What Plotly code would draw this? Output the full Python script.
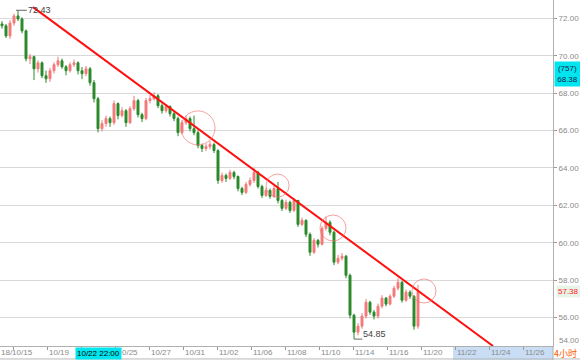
import plotly.graph_objects as go

# ---- data (4-hour candles) ----
closes = [71.60, 71.06, 71.75, 72.13, 71.97, 71.33, 69.84, 69.95, 69.30, 69.62,
          68.93, 68.77, 69.20, 69.52, 69.73, 69.41, 69.20, 69.52, 69.62, 69.20,
          69.04, 69.30, 68.56, 67.70, 66.10, 66.37, 66.64, 66.42, 67.44, 66.80,
          67.06, 66.42, 67.17, 67.60, 66.85, 66.64, 67.60, 67.70, 67.86, 67.33,
          67.06, 67.28, 66.90, 66.64, 65.89, 66.42, 66.64, 66.10, 65.89, 65.20,
          65.04, 65.14, 65.25, 64.93, 63.33, 63.60, 63.44, 63.76, 63.54, 62.90,
          62.69, 63.12, 63.33, 63.76, 63.01, 62.53, 62.80, 62.48, 62.90, 62.26,
          61.84, 62.16, 61.73, 62.26, 60.98, 61.20, 60.45, 59.49, 60.13, 59.92,
          60.77, 61.09, 60.56, 58.96, 59.17, 59.28, 58.26, 56.13, 55.22, 55.54,
          56.08, 56.82, 56.29, 56.08, 56.61, 57.04, 56.72, 57.14, 57.57, 57.89,
          56.93, 57.36, 57.14, 55.54, 57.38]
highs = [71.85, 71.70, 71.90, 72.25, 72.43, 72.05, 71.40, 70.10, 70.00, 69.75,
         69.70, 69.20, 69.35, 69.65, 69.95, 69.85, 69.50, 69.65, 69.80, 69.70,
         69.40, 69.45, 69.40, 68.70, 67.80, 66.55, 66.80, 66.75, 67.60, 67.50,
         67.25, 67.15, 67.30, 67.85, 67.70, 66.95, 67.75, 67.90, 68.05, 67.95,
         67.45, 67.40, 67.35, 67.00, 66.75, 66.55, 66.80, 66.75, 66.80, 66.00,
         65.30, 65.30, 65.45, 65.35, 65.00, 63.75, 63.70, 63.90, 63.85, 63.60,
         63.00, 63.25, 63.50, 64.00, 63.85, 63.10, 62.95, 62.90, 63.05, 63.25,
         62.35, 62.30, 62.25, 62.40, 62.30, 61.35, 61.25, 60.55, 60.25, 60.20,
         60.90, 61.40, 61.20, 60.65, 59.35, 59.45, 59.35, 58.35, 56.20, 55.70,
         56.25, 57.00, 56.90, 56.40, 56.75, 57.20, 57.10, 57.25, 57.70, 58.10,
         57.95, 57.50, 57.45, 57.20, 57.75]
lows = [71.45, 70.95, 70.90, 71.60, 71.85, 71.20, 69.70, 69.55, 68.70, 69.10,
        68.80, 68.55, 68.60, 69.05, 69.40, 69.30, 68.95, 69.10, 69.40, 69.00,
        68.75, 68.90, 68.40, 67.50, 65.90, 65.95, 66.20, 66.20, 66.30, 66.60,
        66.70, 66.20, 66.35, 67.05, 66.70, 66.45, 66.55, 67.45, 67.60, 67.20,
        66.90, 66.95, 66.75, 66.50, 65.70, 65.80, 66.30, 65.95, 65.75, 65.05,
        64.85, 64.90, 65.00, 64.80, 63.15, 63.20, 63.25, 63.35, 63.40, 62.75,
        62.55, 62.60, 63.00, 63.20, 62.90, 62.40, 62.45, 62.35, 62.40, 62.10,
        61.70, 61.75, 61.60, 61.65, 60.85, 60.90, 60.30, 59.30, 59.40, 59.75,
        59.85, 60.65, 60.40, 58.80, 58.85, 59.05, 58.10, 55.95, 54.85, 55.05,
        55.40, 55.95, 56.15, 55.90, 55.95, 56.50, 56.60, 56.65, 57.05, 57.45,
        56.80, 56.85, 57.00, 55.35, 55.40]
first_open = 71.70
opens = [first_open] + closes[:-1]
idx = list(range(len(closes)))

tick_idx = [2.75, 11.25, 19.75, 28.25, 36.75, 45.25, 53.75, 62.25, 70.75,
            79.25, 87.75, 96.25, 104.75, 113.25, 121.75, 130.25]
tick_text = ["18/10/15", "10/19", "10/22", "10/25", "10/27", "10/31", "11/02",
             "11/06", "11/08", "11/10", "11/14", "11/16", "11/20", "11/22",
             "11/24", "11/26"]
y_ticks = [56, 58, 60, 62, 64, 66, 68, 70, 72]
y_text = ["56.00", "58.00", "60.00", "62.00", "64.00", "66.00", "68.00", "70.00", "72.00"]

trend_x = [7.75, 122.75]
trend_y = [72.60, 54.48]
circle_x = [49.0, 68.9, 82.75, 105.5]
circle_y = [66.14, 63.06, 60.79, 57.42]
circle_r = [17, 11.5, 13, 12]

high_val, high_idx = 72.43, 4
low_val, low_idx = 54.85, 88
last_price = 57.38
cross_price, cross_count = "68.38", "(757)"
cross_time, cross_time_idx = "10/22 22:00", 24
future_start = 112.75
period_label = "4小时"

X_RANGE = [-0.5, 137.75]
Y_RANGE = [54.48, 72.98]
FONT = "Liberation Sans, Arial, sans-serif"
GRAY = "#8a8a8a"

fig = go.Figure(go.Candlestick(
    x=idx, open=opens, high=highs, low=lows, close=closes,
    increasing=dict(line=dict(color="#f47a7a", width=1), fillcolor="#f47a7a"),
    decreasing=dict(line=dict(color="#2a8a2a", width=1), fillcolor="#2a8a2a"),
    whiskerwidth=0, hoverinfo="skip", showlegend=False))

shapes = []
bot = -14 / 346
# future band in the time axis
shapes.append(dict(type="rect", xref="x", yref="paper", x0=future_start, x1=X_RANGE[1],
                   y0=bot, y1=0, fillcolor="#c9ddf5", line=dict(width=0), layer="below"))
# bottom border and right divider
shapes.append(dict(type="line", xref="paper", yref="paper", x0=0, x1=1.05, y0=bot + 0.003,
                   y1=bot + 0.003, line=dict(color="#b8b8b8", width=1)))
shapes.append(dict(type="line", xref="paper", yref="paper", x0=1, x1=1, y0=bot, y1=0,
                   line=dict(color="#b0b0b0", width=1)))
# trend line
shapes.append(dict(type="line", xref="x", yref="y", x0=trend_x[0], y0=trend_y[0],
                   x1=trend_x[1], y1=trend_y[1], line=dict(color="#ff1010", width=2)))
# circles
for cx, cy, r in zip(circle_x, circle_y, circle_r):
    shapes.append(dict(type="circle", xref="x", yref="y", xsizemode="pixel", ysizemode="pixel",
                       xanchor=cx, yanchor=cy, x0=-r, x1=r, y0=-r, y1=r,
                       line=dict(color="rgba(240,110,110,0.65)", width=1)))
# high / low brackets
shapes.append(dict(type="line", xref="x", yref="y", x0=high_idx - 0.5, x1=high_idx + 2.2,
                   y0=high_val, y1=high_val, line=dict(color="#666", width=1)))
shapes.append(dict(type="line", xref="x", yref="y", x0=low_idx, x1=low_idx + 2.1,
                   y0=low_val, y1=low_val, line=dict(color="#666", width=1)))

ann = []
for i, (tx, tt) in enumerate(zip(tick_idx, tick_text)):
    if i == 0:
        ann.append(dict(x=0, xref="paper", y=0, yref="paper", xanchor="left", yanchor="top",
                        text=tt, showarrow=False, font=dict(size=8, color=GRAY, family=FONT),
                        yshift=-1, borderpad=0))
    elif tt == cross_time.split(" ")[0]:
        continue  # fully hidden behind the crosshair time box
    elif i == 3:
        # partly covered by the crosshair time box: only its tail is visible
        ann.append(dict(x=tx, xref="x", y=0, yref="paper", xanchor="left", yanchor="top",
                        text=tt[1:], showarrow=False, font=dict(size=8, color=GRAY, family=FONT),
                        yshift=-1, xshift=6, borderpad=0))
    else:
        ann.append(dict(x=tx, xref="x", y=0, yref="paper", xanchor="left", yanchor="top",
                        text=tt, showarrow=False, font=dict(size=8, color=GRAY, family=FONT),
                        yshift=-1, xshift=1, borderpad=0))
ann.append(dict(x=cross_time_idx, xref="x", y=0, yref="paper", xanchor="center", yanchor="top",
                text=cross_time, showarrow=False, bgcolor="#00e6ee",
                font=dict(size=8, color="#000", family=FONT), yshift=-1, borderpad=1))
ann.append(dict(x=1, xref="paper", y=69.05, yref="y", xanchor="left", yanchor="middle",
                text=cross_count + "<br>" + cross_price, showarrow=False, bgcolor="#00e6ee",
                font=dict(size=8, color="#1a1a50", family=FONT), xshift=1, width=25,
                height=24, borderpad=0))
ann.append(dict(x=1, xref="paper", y=last_price, yref="y", xanchor="left", yanchor="middle",
                text=f"{last_price:.2f}", showarrow=False, bgcolor="#e8f4e8",
                font=dict(size=8, color="#ff2020", family=FONT), xshift=3, borderpad=1))
ann.append(dict(x=1, xref="paper", y=0, yref="paper", xanchor="left", yanchor="bottom",
                text="54.00", showarrow=False, font=dict(size=8, color=GRAY, family=FONT),
                xshift=4, yshift=-1))
ann.append(dict(x=1, xref="paper", y=bot, yref="paper", xanchor="left", yanchor="bottom",
                text=period_label, showarrow=False,
                font=dict(size=9, color="#ff5a00", family="Noto Sans CJK SC, sans-serif"),
                xshift=0, yshift=-1, borderpad=0))
ann.append(dict(x=high_idx + 2.2, xref="x", y=high_val, yref="y", xanchor="left", yanchor="middle",
                text=f"{high_val:.2f}", showarrow=False, font=dict(size=9, color="#444", family=FONT),
                xshift=0, borderpad=0))
ann.append(dict(x=low_idx + 2.1, xref="x", y=low_val, yref="y", xanchor="left", yanchor="middle",
                text=f"{low_val:.2f}", showarrow=False, font=dict(size=9, color="#444", family=FONT),
                yshift=5, borderpad=0))

fig.update_layout(
    width=580, height=360, margin=dict(l=0, r=27, t=0, b=14),
    paper_bgcolor="white", plot_bgcolor="white",
    shapes=shapes, annotations=ann, showlegend=False,
    xaxis=dict(range=X_RANGE, rangeslider=dict(visible=False), showgrid=False, zeroline=False,
               showline=True, linecolor="#b0b0b0", linewidth=1, ticks="outside", ticklen=3,
               tickcolor="#999", tickvals=tick_idx, showticklabels=False, fixedrange=True),
    yaxis=dict(range=Y_RANGE, side="right", tickvals=y_ticks, ticktext=y_text,
               showgrid=True, gridcolor="#d8d8d8", gridwidth=1, zeroline=False,
               showline=True, linecolor="#b0b0b0", linewidth=1, ticks="outside", ticklen=3,
               tickcolor="#999", tickfont=dict(size=8, color=GRAY, family=FONT), fixedrange=True),
)

fig.write_html("out.html", config={"displayModeBar": False})
